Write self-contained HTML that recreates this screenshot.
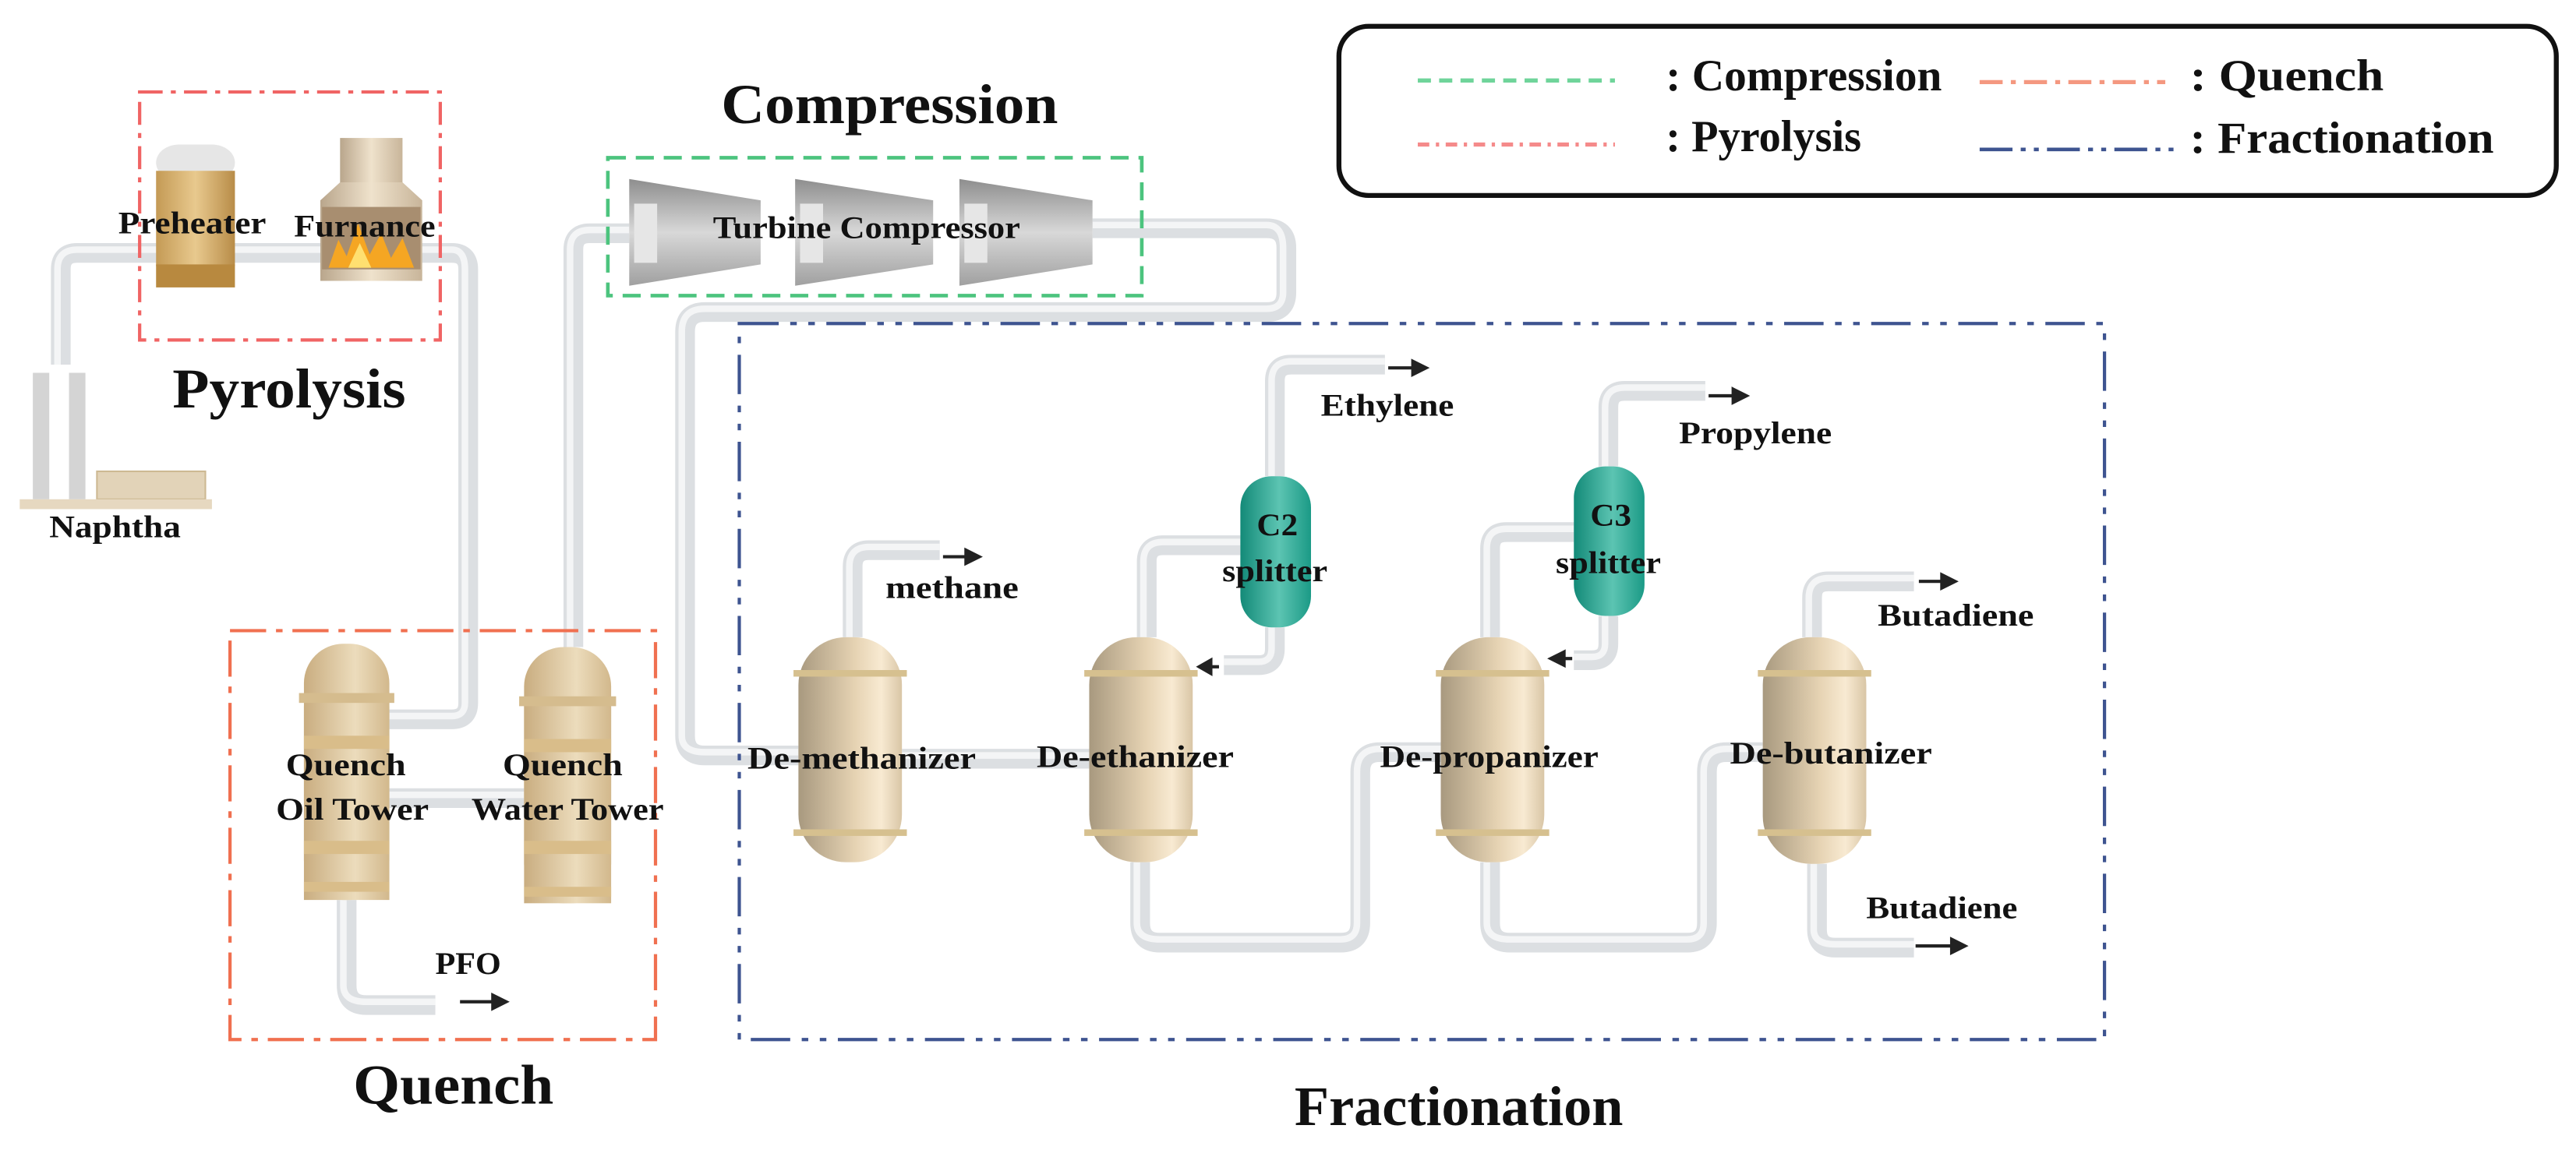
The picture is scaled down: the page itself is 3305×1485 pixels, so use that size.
<!DOCTYPE html>
<html><head><meta charset="utf-8"><style>
html,body{margin:0;padding:0;background:#fff}
svg{display:block}
text{font-family:"Liberation Serif",serif;fill:#111}
</style></head><body>
<svg width="3305" height="1485" viewBox="0 0 1568 704.5" xmlns="http://www.w3.org/2000/svg">
<defs>
<linearGradient id="tw" x1="0" x2="1" y1="0" y2="0">
<stop offset="0" stop-color="#a8997f"/><stop offset="0.55" stop-color="#e6d3b3"/><stop offset="0.8" stop-color="#f8ead2"/><stop offset="1" stop-color="#d9c6a6"/></linearGradient>
<linearGradient id="qt" x1="0" x2="1" y1="0" y2="0">
<stop offset="0" stop-color="#c9ad80"/><stop offset="0.6" stop-color="#ecdcbc"/><stop offset="1" stop-color="#d2b88c"/></linearGradient>
<linearGradient id="tl" x1="0" x2="1" y1="0" y2="0">
<stop offset="0" stop-color="#138a78"/><stop offset="0.55" stop-color="#5cc4b2"/><stop offset="1" stop-color="#1b9a86"/></linearGradient>
<linearGradient id="tb" x1="0" x2="0" y1="0" y2="1">
<stop offset="0" stop-color="#8e8e8e"/><stop offset="0.5" stop-color="#d8d8d8"/><stop offset="1" stop-color="#a0a0a0"/></linearGradient>
<linearGradient id="ph" x1="0" x2="1"><stop offset="0" stop-color="#c49a55"/><stop offset="0.5" stop-color="#e8c98e"/><stop offset="1" stop-color="#b88c48"/></linearGradient>
<linearGradient id="fu" x1="0" x2="1"><stop offset="0" stop-color="#b9a68c"/><stop offset="0.5" stop-color="#efe2cc"/><stop offset="1" stop-color="#c8b59a"/></linearGradient>
</defs>

<!-- PIPES -->
<g fill="none" stroke-linejoin="round" stroke-linecap="butt">
<g stroke="#dcdfe2" stroke-width="12">
<path d="M37 222 V164 Q37 154 47 154 H275 Q285 154 285 164 V428 Q285 438 275 438 H237"/>
<path d="M237 486 H319"/>
<path d="M349 394 V152 Q349 142 359 142 H383"/>
<path d="M665 139 H771 Q783 139 783 151 V178 Q783 190 771 190 H429 Q417 190 417 202 V448 Q417 460 429 460 H486"/>
<path d="M549 462 H663"/>
<path d="M519 388 V345 Q519 335 529 335 H572"/>
<path d="M698 388 V342 Q698 332 708 332 H755"/>
<path d="M776 382 V395 Q776 405 766 405 H745"/>
<path d="M776 290 V232 Q776 222 786 222 H843"/>
<path d="M694 525 V562 Q694 574 706 574 H816 Q828 574 828 562 V470 Q828 458 840 458 H877"/>
<path d="M907 388 V334 Q907 324 917 324 H958"/>
<path d="M979 375 V392 Q979 402 969 402 H958"/>
<path d="M979 284 V248 Q979 238 989 238 H1038"/>
<path d="M907 525 V562 Q907 574 919 574 H1027 Q1039 574 1039 562 V470 Q1039 458 1051 458 H1073"/>
<path d="M1103 388 V364 Q1103 354 1113 354 H1165"/>
<path d="M1106 526 V566 Q1106 577 1117 577 H1165"/>
<path d="M211 548 V600 Q211 612 223 612 H265"/>
</g>
<g stroke="#f4f5f6" stroke-width="4">
<path d="M35 222 V164 Q35 152 47 152 H275 Q283 152 283 164 V428 Q283 436 275 436 H237"/>
<path d="M237 484 H319"/>
<path d="M347 394 V152 Q347 140 359 140 H383"/>
<path d="M665 137 H771 Q781 137 781 151 V178 Q781 188 771 188 H429 Q415 188 415 202 V448 Q415 458 429 458 H486"/>
<path d="M549 460 H663"/>
<path d="M517 388 V345 Q517 333 529 333 H572"/>
<path d="M696 388 V342 Q696 330 708 330 H755"/>
<path d="M774 382 V395 Q774 403 766 403 H745"/>
<path d="M774 290 V232 Q774 220 786 220 H843"/>
<path d="M692 525 V562 Q692 572 706 572 H816 Q826 572 826 562 V470 Q826 456 840 456 H877"/>
<path d="M905 388 V334 Q905 322 917 322 H958"/>
<path d="M977 375 V392 Q977 400 969 400 H958"/>
<path d="M977 284 V248 Q977 236 989 236 H1038"/>
<path d="M905 525 V562 Q905 572 919 572 H1027 Q1037 572 1037 562 V470 Q1037 456 1051 456 H1073"/>
<path d="M1101 388 V364 Q1101 352 1113 352 H1165"/>
<path d="M1104 526 V566 Q1104 575 1117 575 H1165"/>
<path d="M209 548 V600 Q209 610 223 610 H265"/>
</g>
</g>

<!-- Arrows -->
<g stroke="#222" stroke-width="2" fill="#222">
<line x1="574" y1="339" x2="590" y2="339"/><path d="M588 335 L596 339 L588 343Z"/>
<line x1="845" y1="224" x2="862" y2="224"/><path d="M860 220 L868 224 L860 228Z"/>
<line x1="1040" y1="241" x2="1057" y2="241"/><path d="M1055 237 L1063 241 L1055 245Z"/>
<line x1="1168" y1="354" x2="1184" y2="354"/><path d="M1182 350 L1190 354 L1182 358Z"/>
<line x1="1166" y1="576" x2="1190" y2="576"/><path d="M1188 572 L1196 576 L1188 580Z"/>
<line x1="280" y1="610" x2="302" y2="610"/><path d="M300 606 L308 610 L300 614Z"/>
<line x1="742" y1="406" x2="735" y2="406"/><path d="M737 402 L730 406 L737 410Z"/>
<line x1="957" y1="401" x2="950" y2="401"/><path d="M952 397 L944 401 L952 405Z"/>
</g>

<!-- Naphtha stacks -->
<rect x="20" y="227" width="10" height="77" fill="#d4d4d4"/>
<rect x="42" y="227" width="10" height="77" fill="#d4d4d4"/>
<rect x="59" y="287" width="66" height="17" fill="#e2d3b8" stroke="#cdb993" stroke-width="1"/>
<rect x="12" y="304" width="117" height="6" fill="#e6d8c0"/>

<!-- Preheater -->
<rect x="95" y="88" width="48" height="22" rx="14" fill="#e6e6e6"/>
<rect x="95" y="104" width="48" height="58" fill="url(#ph)"/>
<rect x="95" y="161" width="48" height="14" fill="#b8893f"/>
<!-- Furnace -->
<rect x="207" y="84" width="38" height="28" fill="url(#fu)"/>
<path d="M207 111 L195 122 V171 H257 V122 L245 111Z" fill="url(#fu)"/>
<rect x="196" y="126" width="60" height="38" fill="#a88e70"/>
<path d="M200 163 L206 146 L211 156 L218 136 L225 155 L232 142 L238 157 L245 145 L252 163Z" fill="#f5a623"/>
<path d="M212 163 L219 148 L226 163Z" fill="#ffe070"/>

<!-- Turbines -->
<path d="M383 109 L463 122 V161 L383 174Z" fill="url(#tb)"/>
<path d="M484 109 L568 122 V161 L484 174Z" fill="url(#tb)"/>
<path d="M584 109 L665 122 V161 L584 174Z" fill="url(#tb)"/>
<rect x="386" y="124" width="14" height="36" fill="#e6e6e6"/>
<rect x="487" y="124" width="14" height="36" fill="#e6e6e6"/>
<rect x="587" y="124" width="14" height="36" fill="#e6e6e6"/>

<!-- Quench towers -->
<g>
<rect x="185" y="392" width="52" height="156" rx="24" fill="url(#qt)"/>
<rect x="185" y="430" width="52" height="118" fill="url(#qt)"/>
<rect x="182" y="422" width="58" height="6" fill="#d5bc8e"/>
<rect x="185" y="448" width="52" height="8" fill="#d9bd8a"/>
<rect x="185" y="512" width="52" height="8" fill="#d9bd8a"/>
<rect x="185" y="537" width="52" height="6" fill="#d9bd8a"/>
<rect x="319" y="394" width="53" height="156" rx="24" fill="url(#qt)"/>
<rect x="319" y="430" width="53" height="120" fill="url(#qt)"/>
<rect x="316" y="424" width="59" height="6" fill="#d5bc8e"/>
<rect x="319" y="450" width="53" height="8" fill="#d9bd8a"/>
<rect x="319" y="512" width="53" height="8" fill="#d9bd8a"/>
<rect x="319" y="540" width="53" height="6" fill="#d9bd8a"/>
</g>

<!-- Fractionation columns -->
<g>
<rect x="486" y="388" width="63" height="137" rx="29" fill="url(#tw)"/>
<rect x="483" y="408" width="69" height="4" fill="#d6c08f"/><rect x="483" y="505" width="69" height="4" fill="#d6c08f"/>
<rect x="663" y="388" width="63" height="137" rx="29" fill="url(#tw)"/>
<rect x="660" y="408" width="69" height="4" fill="#d6c08f"/><rect x="660" y="505" width="69" height="4" fill="#d6c08f"/>
<rect x="877" y="388" width="63" height="137" rx="29" fill="url(#tw)"/>
<rect x="874" y="408" width="69" height="4" fill="#d6c08f"/><rect x="874" y="505" width="69" height="4" fill="#d6c08f"/>
<rect x="1073" y="388" width="63" height="138" rx="29" fill="url(#tw)"/>
<rect x="1070" y="408" width="69" height="4" fill="#d6c08f"/><rect x="1070" y="505" width="69" height="4" fill="#d6c08f"/>
</g>
<!-- Splitters -->
<rect x="755" y="290" width="43" height="92" rx="19" fill="url(#tl)"/>
<rect x="958" y="284" width="43" height="91" rx="19" fill="url(#tl)"/>

<!-- Boxes -->
<rect x="85" y="56" width="183" height="151" fill="none" stroke="#f06464" stroke-width="2" stroke-dasharray="14 5 3 5"/>
<rect x="370" y="96" width="325" height="84" fill="none" stroke="#4cc47e" stroke-width="2.2" stroke-dasharray="11 6"/>
<rect x="140" y="384" width="259" height="249" fill="none" stroke="#f07050" stroke-width="2" stroke-dasharray="22 6 4 6"/>
<rect x="450" y="197" width="831" height="436" fill="none" stroke="#3e5490" stroke-width="2" stroke-dasharray="24 7 4 7 4 7"/>

<!-- Legend -->
<rect x="815" y="16" width="741" height="103" rx="18" fill="#fff" stroke="#111" stroke-width="3"/>
<line x1="863" y1="49" x2="983" y2="49" stroke="#6fd49a" stroke-width="2.5" stroke-dasharray="8 5"/>
<line x1="1205" y1="50" x2="1318" y2="50" stroke="#f49880" stroke-width="2.5" stroke-dasharray="14 5 3 5"/>
<line x1="863" y1="88" x2="983" y2="88" stroke="#f58a8a" stroke-width="2.5" stroke-dasharray="7 4 2 4"/>
<line x1="1205" y1="91" x2="1323" y2="91" stroke="#3e5490" stroke-width="2.2" stroke-dasharray="20 5 3 5 3 5"/>
<g font-size="27" font-weight="bold">
<text x="1014" y="55" textLength="168" lengthAdjust="spacingAndGlyphs">: Compression</text>
<text x="1333" y="55" textLength="118" lengthAdjust="spacingAndGlyphs">: Quench</text>
<text x="1014" y="92" textLength="119" lengthAdjust="spacingAndGlyphs">: Pyrolysis</text>
<text x="1333" y="93" textLength="185" lengthAdjust="spacingAndGlyphs">: Fractionation</text>
</g>

<!-- Titles -->
<g font-weight="bold" font-size="34">
<text x="105" y="248" textLength="142" lengthAdjust="spacingAndGlyphs">Pyrolysis</text>
<text x="439" y="75" textLength="205" lengthAdjust="spacingAndGlyphs">Compression</text>
<text x="215" y="672" textLength="122" lengthAdjust="spacingAndGlyphs">Quench</text>
<text x="788" y="685" textLength="200" lengthAdjust="spacingAndGlyphs">Fractionation</text>
</g>

<!-- Labels -->
<g font-size="19" font-weight="bold">
<text x="72" y="142" textLength="90" lengthAdjust="spacingAndGlyphs">Preheater</text>
<text x="179" y="144" textLength="86" lengthAdjust="spacingAndGlyphs">Furnance</text>
<text x="434" y="145" textLength="187" lengthAdjust="spacingAndGlyphs">Turbine Compressor</text>
<text x="30" y="327" textLength="80" lengthAdjust="spacingAndGlyphs">Naphtha</text>
<text x="174" y="472" textLength="73" lengthAdjust="spacingAndGlyphs">Quench</text>
<text x="168" y="499" textLength="93" lengthAdjust="spacingAndGlyphs">Oil Tower</text>
<text x="306" y="472" textLength="73" lengthAdjust="spacingAndGlyphs">Quench</text>
<text x="287" y="499" textLength="117" lengthAdjust="spacingAndGlyphs">Water Tower</text>
<text x="265" y="593" textLength="40" lengthAdjust="spacingAndGlyphs">PFO</text>
<text x="455" y="468" textLength="139" lengthAdjust="spacingAndGlyphs">De-methanizer</text>
<text x="631" y="467" textLength="120" lengthAdjust="spacingAndGlyphs">De-ethanizer</text>
<text x="840" y="467" textLength="133" lengthAdjust="spacingAndGlyphs">De-propanizer</text>
<text x="1053" y="465" textLength="123" lengthAdjust="spacingAndGlyphs">De-butanizer</text>
<text x="539" y="364" textLength="81" lengthAdjust="spacingAndGlyphs">methane</text>
<text x="804" y="253" textLength="81" lengthAdjust="spacingAndGlyphs">Ethylene</text>
<text x="1022" y="270" textLength="93" lengthAdjust="spacingAndGlyphs">Propylene</text>
<text x="1143" y="381" textLength="95" lengthAdjust="spacingAndGlyphs">Butadiene</text>
<text x="1136" y="559" textLength="92" lengthAdjust="spacingAndGlyphs">Butadiene</text>
<text x="765" y="326" textLength="25" lengthAdjust="spacingAndGlyphs">C2</text>
<text x="744" y="354" textLength="64" lengthAdjust="spacingAndGlyphs">splitter</text>
<text x="968" y="320" textLength="25" lengthAdjust="spacingAndGlyphs">C3</text>
<text x="947" y="349" textLength="64" lengthAdjust="spacingAndGlyphs">splitter</text>
</g>
</svg>
</body></html>
